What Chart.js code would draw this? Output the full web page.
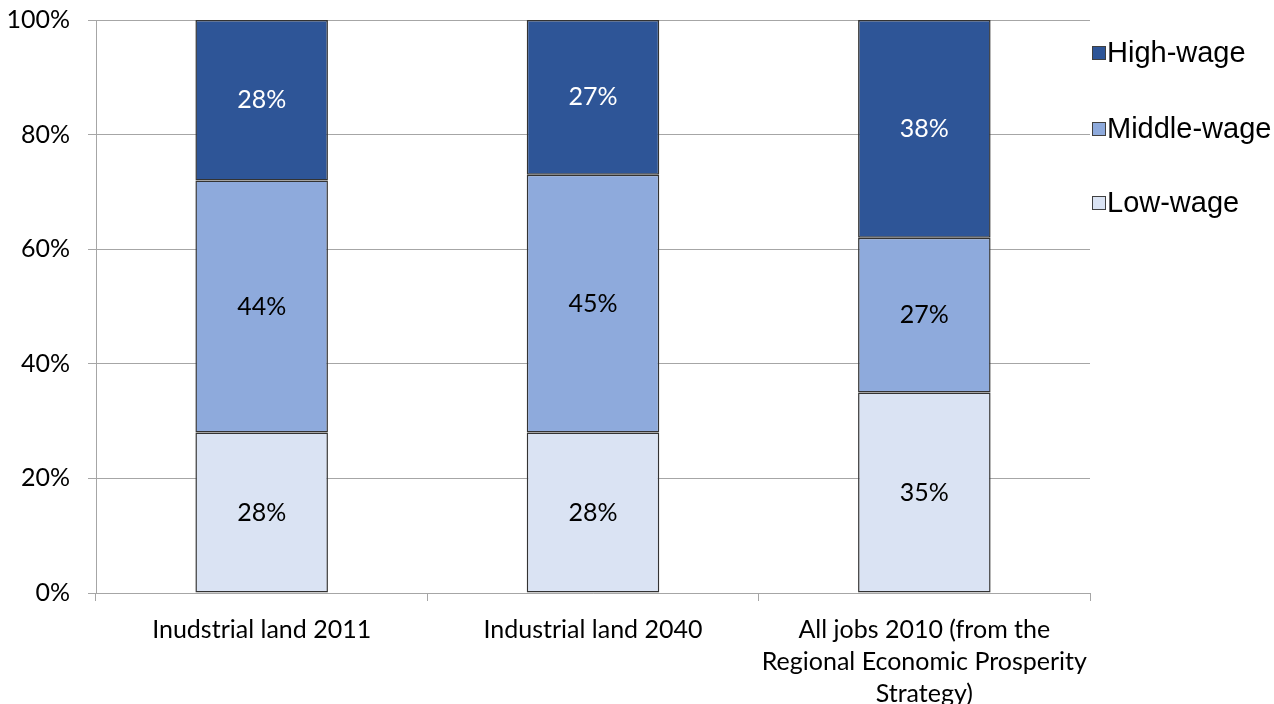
<!DOCTYPE html>
<html>
<head>
<meta charset="utf-8">
<script src="https://cdn.jsdelivr.net/npm/chart.js@4/dist/chart.umd.min.js"></script>
<style>
  html, body { margin: 0; padding: 0; background: #fff; }
  #wrap { width: 1274px; height: 704px; }
</style>
</head>
<body>
<div id="wrap"><canvas id="wageChart" width="1274" height="704"></canvas></div>
<script>
// Share of jobs by wage level
const categories = [
    'Inudstrial land 2011',
    'Industrial land 2040',
    ['All jobs 2010 (from the', 'Regional Economic Prosperity', 'Strategy)']
];
const lowWage = [28, 28, 35];
const middleWage = [44, 45, 27];
const highWage = [28, 27, 38];
const yTicks = [0, 20, 40, 60, 80, 100];

const labelFont = 'Lato, Calibri, sans-serif';
const gridGray = '#A6A6A6';

// value labels in the middle of each segment
const segmentLabels = {
    id: 'segmentLabels',
    afterDatasetsDraw(chart) {
        const ctx = chart.ctx;
        ctx.save();
        ctx.font = '25px ' + labelFont;
        ctx.textAlign = 'center';
        ctx.textBaseline = 'middle';
        chart.data.datasets.forEach((ds, i) => {
            const meta = chart.getDatasetMeta(i);
            ctx.fillStyle = ds.labelColor;
            meta.data.forEach((bar, j) => {
                const y = (bar.y + bar.base) / 2;
                ctx.fillText(ds.data[j] + '%', bar.x, y);
            });
        });
        ctx.restore();
    }
};

// legend to the right of the plot, top series first
const sideLegend = {
    id: 'sideLegend',
    afterDraw(chart) {
        const ctx = chart.ctx;
        const area = chart.chartArea;
        const rows = [53, 129, 203];
        const items = chart.data.datasets.slice().reverse();
        ctx.save();
        ctx.font = '29px "Liberation Sans", Arial, sans-serif';
        ctx.textBaseline = 'middle';
        ctx.textAlign = 'left';
        items.forEach((ds, k) => {
            const y = rows[k];
            ctx.fillStyle = ds.backgroundColor;
            ctx.fillRect(area.right + 2.5, y - 6.5, 13, 13);
            ctx.strokeStyle = '#404040';
            ctx.lineWidth = 1;
            ctx.strokeRect(area.right + 2.5, y - 6.5, 13, 13);
            ctx.fillStyle = '#000';
            ctx.fillText(ds.label, area.right + 17, y + 1);
        });
        ctx.restore();
    }
};

const ctx = document.getElementById('wageChart').getContext('2d');
new Chart(ctx, {
    type: 'bar',
    data: {
        labels: categories,
        datasets: [
            { label: 'Low-wage', data: lowWage, backgroundColor: '#DAE3F3', labelColor: '#000' },
            { label: 'Middle-wage', data: middleWage, backgroundColor: '#8EAADC', labelColor: '#000' },
            { label: 'High-wage', data: highWage, backgroundColor: '#2E5597', labelColor: '#fff' }
        ].map(d => Object.assign(d, {
            borderColor: '#333333',
            borderWidth: 1.5,
            borderSkipped: false,
            barPercentage: 0.4,
            categoryPercentage: 1
        }))
    },
    options: {
        responsive: false,
        animation: false,
        layout: { padding: { top: 20, right: 184, bottom: 0, left: 0 } },
        plugins: {
            legend: { display: false },
            tooltip: { enabled: false }
        },
        scales: {
            x: {
                stacked: true,
                grid: {
                    offset: true,
                    drawOnChartArea: false,
                    color: gridGray,
                    tickLength: 8
                },
                border: { color: gridGray },
                ticks: {
                    color: '#000',
                    font: { family: labelFont, size: 25, lineHeight: 1.28 },
                    padding: 13,
                    maxRotation: 0
                },
                afterFit(scale) { scale.height = 111; }
            },
            y: {
                stacked: true,
                min: 0,
                max: 100,
                afterBuildTicks(scale) { scale.ticks = yTicks.map(v => ({ value: v })); },
                grid: { color: gridGray, tickLength: 8 },
                border: { color: gridGray },
                ticks: {
                    color: '#000',
                    font: { family: labelFont, size: 25 },
                    padding: 18,
                    callback: v => v + '%'
                },
                afterFit(scale) {
                    scale.width = 96;
                    scale.paddingTop = 0;
                    scale.paddingBottom = 0;
                }
            }
        }
    },
    plugins: [segmentLabels, sideLegend]
});
</script>
</body>
</html>
